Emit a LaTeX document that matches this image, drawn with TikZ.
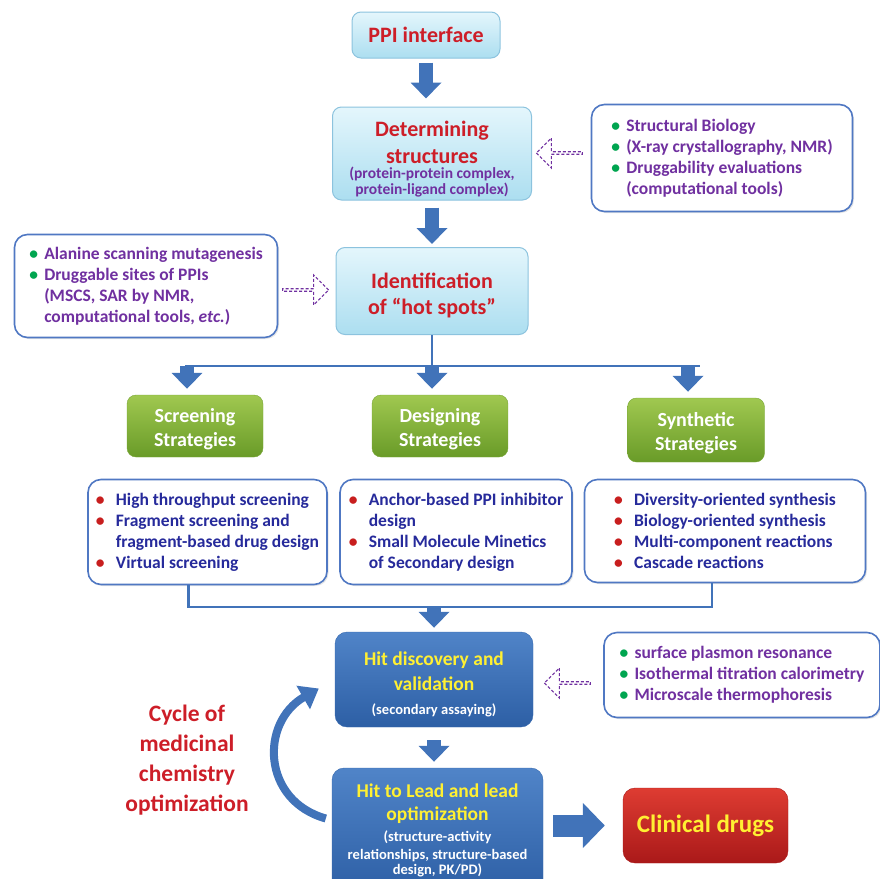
\documentclass[tikz,border=0pt]{standalone}
\usepackage{fontspec}
\setmainfont{Carlito}
\usetikzlibrary{arrows.meta,shapes.arrows,shadows,calc}

\definecolor{titlered}{RGB}{205,30,40}
\definecolor{listpurple}{RGB}{112,48,160}
\definecolor{listnavy}{RGB}{38,42,155}
\definecolor{dotgreen}{RGB}{0,165,80}
\definecolor{dotred}{RGB}{200,30,30}
\definecolor{flowblue}{RGB}{65,115,185}
\definecolor{boxline}{RGB}{80,120,195}
\definecolor{cyantop}{RGB}{228,246,252}
\definecolor{cyanbot}{RGB}{172,222,240}
\definecolor{cyanline}{RGB}{140,195,222}
\definecolor{greentop}{RGB}{160,200,80}
\definecolor{greenbot}{RGB}{105,155,40}
\definecolor{greenline}{RGB}{120,165,55}
\definecolor{bluetop}{RGB}{80,132,200}
\definecolor{bluebot}{RGB}{45,95,165}
\definecolor{hitline}{RGB}{55,105,175}
\definecolor{redtop}{RGB}{222,60,50}
\definecolor{redbot}{RGB}{170,25,25}
\definecolor{hotyellow}{RGB}{255,240,50}

\newcommand{\titlefont}{\fontsize{22}{26}\selectfont\bfseries}
\newcommand{\subfont}{\fontsize{15.5}{16}\selectfont\bfseries}
\newcommand{\listfont}{\fontsize{17.5}{21}\selectfont\bfseries}
\newcommand{\stratfont}{\fontsize{20}{24}\selectfont\bfseries}
\newcommand{\hitfont}{\fontsize{19.5}{24.5}\selectfont\bfseries}
\newcommand{\smallhit}{\fontsize{14.5}{16}\selectfont\bfseries}
\newcommand{\cyclefont}{\fontsize{23.5}{30}\selectfont\bfseries}
\newcommand{\gdot}{\makebox[15pt][l]{\textcolor{dotgreen}{\textbullet}}}
\newcommand{\rdot}{\makebox[20pt][l]{\textcolor{dotred}{\textbullet}}}
\newcommand{\nodot}{\hspace*{15pt}}
\newcommand{\nordot}{\hspace*{20pt}}
\newcommand{\topgap}[1]{\rule{0pt}{#1}}

\begin{document}
\begin{tikzpicture}[x=1pt,y=-1pt,
  titlebox/.style={draw=cyanline, line width=1pt, rounded corners=9pt,
    top color=cyantop, bottom color=cyanbot, text=titlered,
    align=center, font=\titlefont, inner sep=2pt},
  stratbox/.style={draw=greenline, rounded corners=9pt, top color=greentop,
    bottom color=greenbot, text=white, align=center, font=\stratfont, inner sep=2pt},
  listbox/.style={draw=boxline, line width=1.6pt, rounded corners=13pt, fill=white,
    align=left, font=\listfont, inner sep=2pt,
    drop shadow={opacity=0.2, shadow xshift=1.5pt, shadow yshift=-1.5pt}},
  hitbox/.style={draw=hitline, rounded corners=12pt, top color=bluetop,
    bottom color=bluebot, text=hotyellow, align=center, font=\hitfont, inner sep=2pt},
  fatarrow/.style={draw=flowblue, line width=14pt, -{Triangle[length=16pt,width=30pt]}},
  bigarrow/.style={draw=flowblue, line width=22pt, -{Triangle[length=22pt,width=44pt]}},
  curvearrow/.style={draw=flowblue, line width=8pt, -{Triangle[length=18pt,width=26pt]}},
  flowline/.style={draw=flowblue, line width=2.5pt},
  hollowarrow/.style={single arrow, draw=listpurple, dash pattern=on 3pt off 2pt, fill=white,
    line width=1.1pt, minimum height=46pt, minimum width=30pt, single arrow head extend=6pt,
    inner sep=0pt}
]
\useasboundingbox (0,0) rectangle (880,878);
\clip (0,0) rectangle (880,878);

% top part
\node[titlebox, minimum width=148pt, minimum height=46pt] (ppi) at (426,35) {PPI interface};
\node[titlebox, minimum width=199pt, minimum height=93pt] (det) at (432,153.5)
  {\topgap{26pt}Determining\\[1pt]structures\\[-11pt]{\subfont\color{listpurple}(protein-protein complex,}\\[-10pt]{\subfont\color{listpurple}protein-ligand complex)}};
\node[listbox, text=listpurple, minimum width=261pt, minimum height=107pt] (sblist) at (722,158)
  {\gdot Structural Biology\\ \gdot (X-ray crystallography, NMR)\\ \gdot Druggability evaluations\\ \nodot(computational tools)};
\node[titlebox, minimum width=192pt, minimum height=87pt] (ident) at (432,291)
  {\topgap{24.5pt}Identification\\of “hot spots”};
\node[listbox, text=listpurple, minimum width=263pt, minimum height=103pt] (allist) at (146,286)
  {\gdot Alanine scanning mutagenesis\\ \gdot Druggable sites of PPIs\\ \nodot(MSCS, SAR by NMR,\\ \nodot computational tools, \textit{etc.})};

\node[hollowarrow, shape border rotate=180] (dash1) at (560,153) {};
\node[hollowarrow] (dash2) at (305,290) {};

\draw[fatarrow, shorten <=4pt, shorten >=8pt] (ppi.south) -- (ppi.south |- det.north);
\draw[fatarrow, shorten <=7pt, shorten >=3pt] (det.south) -- (det.south |- ident.north);

% strategies
\node[stratbox, minimum width=136pt, minimum height=62pt] (screen) at (195,426) {\topgap{20pt}Screening\\Strategies};
\node[stratbox, minimum width=136pt, minimum height=62pt] (design) at (440,426) {\topgap{20pt}Designing\\Strategies};
\node[stratbox, minimum width=137pt, minimum height=64pt] (synth) at (696,430) {\topgap{20pt}Synthetic\\Strategies};

\coordinate (bar) at ($(ident.south)+(0,31)$);
\draw[flowline] (ident.south) -- (bar);
\draw[flowline] ([xshift=-10pt]screen.north |- bar) -- ([xshift=4pt]synth.north |- bar);
\foreach \s in {screen,design,synth}
  \draw[fatarrow, shorten >=6pt] ([xshift=-8pt]\s.north |- bar) -- ([xshift=-8pt]\s.north);

\node[listbox, text=listnavy, minimum width=239pt, minimum height=105pt] (scrlist) at (207.5,532)
  {\rdot High throughput screening\\ \rdot Fragment screening and\\ \nordot fragment-based drug design\\ \rdot Virtual screening};
\node[listbox, text=listnavy, minimum width=232pt, minimum height=105pt] (deslist) at (456,532)
  {\rdot Anchor-based PPI inhibitor\\ \nordot design\\ \rdot Small Molecule Minetics\\ \nordot of Secondary design};
\node[listbox, text=listnavy, minimum width=281pt, minimum height=103pt] (synlist) at (725,531)
  {\rdot Diversity-oriented synthesis\\ \rdot Biology-oriented synthesis\\ \rdot Multi-component reactions\\ \rdot Cascade reactions};

% hit finding and optimization
\node[hitbox, minimum width=198pt, minimum height=95pt] (hit) at (434,679.5)
  {\topgap{23.5pt}Hit discovery and\\validation\\{\smallhit\color{white}(secondary assaying)}};
\node[listbox, text=listpurple, minimum width=276pt, minimum height=85pt] (aslist) at (742,675)
  {\gdot surface plasmon resonance\\ \gdot Isothermal titration calorimetry\\ \gdot Microscale thermophoresis};
\node[hollowarrow, shape border rotate=180] (dash3) at (568,683) {};

\coordinate (join) at ($(hit.north)+(0,-25)$);
\draw[flowline] ([xshift=-19pt]scrlist.south) |- (join) -| ([xshift=-13pt]synlist.south);
\draw[fatarrow, shorten >=4pt] (join) -- (hit.north);

\node[hitbox, minimum width=211pt, minimum height=125pt] (lead) at (437.5,830.5)
  {Hit to Lead and lead\\[-1.5pt]optimization\\[-3pt]{\smallhit\color{white}(structure-activity}\\[-7pt]{\smallhit\color{white}relationships, structure-based}\\[-9pt]{\smallhit\color{white}design, PK/PD)}};
\node[hitbox, draw=redbot, top color=redtop, bottom color=redbot, font=\fontsize{25}{28}\selectfont\bfseries,
  minimum width=165pt, minimum height=75pt] (clin) at (705.5,825.5) {Clinical drugs};

\draw[fatarrow, shorten <=13pt, shorten >=6pt] (hit.south) -- (hit.south |- lead.north);
\draw[bigarrow, shorten <=10pt, shorten >=18pt] (lead.east |- clin.west) -- (clin.west);

\node[text=titlered, font=\cyclefont, align=center] (cycle) at (187,760)
  {Cycle of\\medicinal\\chemistry\\optimization};
\draw[curvearrow] ([xshift=-6pt,yshift=12pt]lead.west) .. controls +(-64,-18) and +(-59,34) .. ([xshift=-16pt,yshift=-9pt]hit.west);
\end{tikzpicture}
\end{document}
